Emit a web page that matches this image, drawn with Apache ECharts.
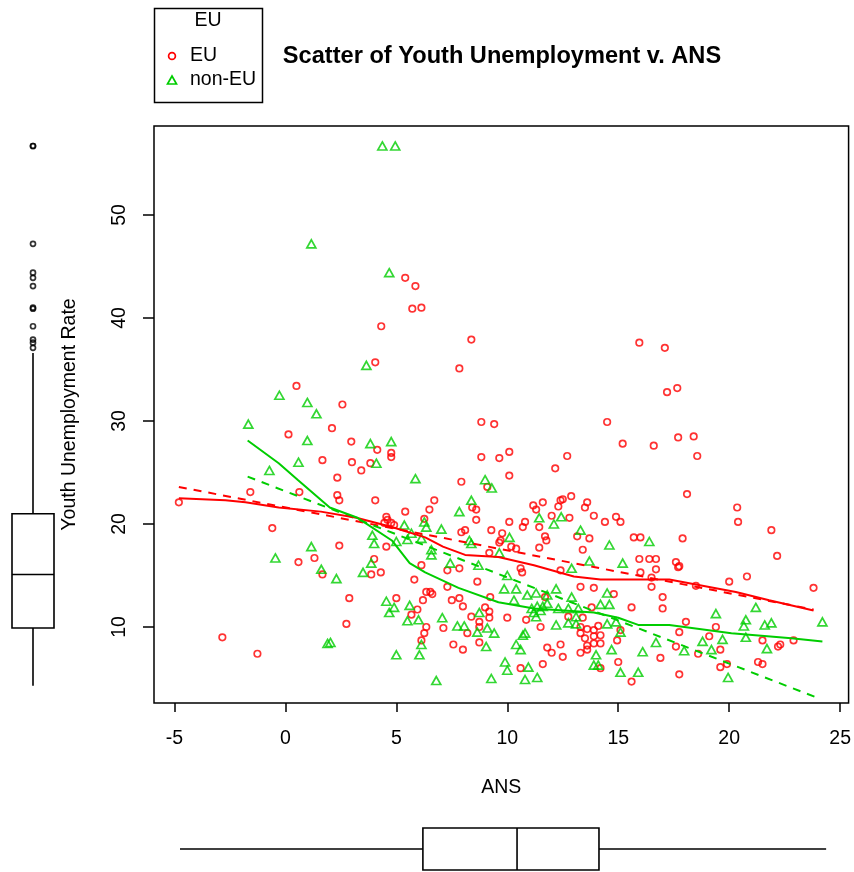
<!DOCTYPE html>
<html>
<head>
<meta charset="utf-8">
<script src="https://cdn.jsdelivr.net/npm/echarts@6/dist/echarts.min.js"></script>
<style>
html,body{margin:0;padding:0;background:#fff;}
#chart{width:854px;height:872px;}
</style>
</head>
<body>
<div id="chart"></div>
<script>
// ---- data ----
const euPoints = [
  [4.32,39.2],[4.05,35.7],[0.5,33.4],[2.57,31.6],[2.1,29.3],[0.14,28.7],
  [5.4,43.9],[5.86,43.1],[5.72,40.9],[6.13,41.0],[8.38,37.9],[7.84,35.1],[15.95,37.6],[8.83,29.9],[9.41,29.7],[14.5,29.9],
  [17.1,37.1],[17.2,32.8],[17.66,33.2],[17.7,28.4],[18.4,28.5],
  [1.67,26.2],[-1.58,23.1],[0.63,23.1],[-4.8,22.1],[-0.59,19.6],[0.59,16.3],[1.31,16.7],[1.67,15.1],
  [2.97,28.0],[4.14,27.2],[4.77,26.9],[4.77,26.5],[3.0,26.0],[3.83,25.9],[3.42,25.2],[8.83,26.5],[2.34,24.5],[7.93,24.1],[9.1,23.6],
  [2.34,22.8],[2.43,22.3],[4.05,22.3],[6.71,22.3],[8.42,21.6],[8.6,21.4],[6.49,21.4],[5.4,21.2],[8.6,20.4],[6.26,20.5],
  [4.55,20.7],[4.6,20.4],[4.46,20.1],[4.77,20.1],[4.9,19.9],[7.93,19.2],[8.1,19.4],[9.28,19.4],[2.43,17.9],[4.55,17.8],[9.19,17.2],[4.0,16.6],[6.13,16.0],
  [15.2,27.8],[16.6,27.6],[9.64,26.4],[10.09,27.0],[12.7,26.6],[12.16,25.4],[10.09,24.7],[12.88,22.7],[11.6,22.1],[12.4,22.3],[12.5,22.4],[13.6,22.1],
  [11.17,21.8],[11.3,21.4],[12.3,21.7],[13.5,21.6],[13.9,20.8],[12.8,20.6],[12.0,20.8],[14.4,20.2],[14.9,20.7],[15.1,20.2],[10.09,20.2],[10.8,20.2],
  [10.7,19.7],[11.44,19.7],[11.7,18.8],[11.76,18.4],[13.15,18.8],[13.7,18.6],[9.77,19.1],[15.7,18.7],[16.0,18.7],[9.64,18.2],[9.7,18.4],[10.18,17.8],
  [10.4,17.6],[11.44,17.7],[13.4,17.5],[15.95,16.6],[16.4,16.6],[16.7,16.6],
  [18.56,26.6],[18.1,22.9],[20.36,21.6],[20.4,20.2],[21.9,19.4],[17.9,18.6],[22.16,16.9],[17.6,16.3],[17.75,15.9],
  [-2.84,9.0],[-1.26,7.4],
  [3.87,15.1],[4.3,15.3],[7.3,15.5],[7.84,15.7],[5.81,14.6],[8.65,14.4],[7.3,13.9],[2.88,12.8],[5.0,12.8],[6.2,12.6],[6.35,13.4],[6.53,13.4],[6.62,13.2],
  [7.5,12.6],[7.84,12.8],[8.0,12.0],[9.23,12.9],[5.95,11.7],[5.68,11.2],[6.35,10.0],[2.75,10.3],[8.38,11.0],[9.0,11.9],[9.19,11.5],[9.19,10.9],
  [7.12,9.9],[8.74,10.5],[8.74,10.0],[8.2,9.4],[6.26,9.4],[6.13,8.7],[7.57,8.3],[8.0,7.8],[8.74,8.5],
  [10.6,15.7],[10.67,15.3],[12.4,15.5],[16.0,15.3],[16.7,15.6],[16.5,14.8],[16.5,13.9],[13.3,13.9],[13.9,13.8],[11.7,12.9],[14.8,13.2],[17.0,12.9],
  [17.0,11.8],[15.6,11.9],[13.8,11.9],[12.75,11.0],[13.4,10.9],[13.3,10.0],[10.0,10.9],[10.85,10.7],[11.5,10.0],[15.1,9.7],[14.95,8.7],[11.8,8.0],
  [12.0,7.5],[12.4,8.3],[12.5,7.1],[11.6,6.4],[13.3,9.4],[13.6,9.8],[13.9,9.7],[14.1,10.1],[13.5,8.9],[13.9,9.1],[14.2,9.2],[13.6,8.2],[13.9,8.4],
  [14.2,8.4],[13.3,7.5],[13.6,7.8],[14.2,6.0],[15.0,6.6],[16.9,7.0],[15.6,4.7],[10.6,6.0],
  [17.7,15.8],[20.0,14.4],[20.8,14.9],[23.8,13.8],[18.5,14.0],[18.05,10.5],[19.4,10.0],[17.75,9.5],[19.1,9.1],[21.5,8.7],[22.3,8.3],[22.2,8.1],
  [22.9,8.7],[17.6,8.1],[19.6,7.8],[18.6,7.4],[21.3,6.6],[21.5,6.4],[19.6,6.1],[19.9,6.4],[17.75,5.4]
];
const nonEuPoints = [
  [4.37,56.7],[4.95,56.7],[1.17,47.2],[4.68,44.4],[3.65,35.4],[-0.27,32.5],[0.99,31.8],[1.4,30.7],[-1.67,29.7],
  [0.99,28.1],[0.59,26.0],[-0.72,25.2],[1.17,17.8],[-0.45,16.7],[1.62,15.6],
  [3.83,27.8],[4.77,28.0],[4.1,25.9],[5.86,24.4],[9.0,24.3],[9.3,23.5],[8.38,22.3],[7.84,21.2],[5.36,19.9],[6.26,20.2],[6.35,19.7],[7.03,19.5],
  [3.92,18.9],[5.68,19.1],[5.0,18.3],[5.5,18.5],[6.13,18.6],[4.0,18.1],[8.29,18.4],[8.38,18.1],[6.58,17.5],[6.58,17.0],[3.87,16.2],[7.43,16.2],
  [11.44,20.6],[12.43,20.7],[12.1,20.0],[13.3,19.4],[10.1,18.7],[16.4,18.3],[14.6,17.96],[9.64,17.2],[13.7,16.4],[15.2,16.2],
  [1.9,8.4],
  [2.3,14.7],[3.5,15.3],[8.7,16.0],[4.55,12.5],[4.9,11.9],[4.68,11.4],[5.6,12.1],[5.5,10.6],[6.0,10.7],[2.03,8.5],[8.74,11.4],[7.07,10.9],
  [7.75,10.1],[8.06,10.1],[8.65,9.5],[9.1,9.9],[9.41,9.4],[6.13,8.3],[6.04,7.3],[9.05,8.1],[5.0,7.3],[6.8,4.8],[9.28,5.0],
  [10.0,15.0],[12.9,15.7],[9.86,13.7],[10.4,13.7],[12.2,13.7],[10.9,13.1],[11.3,13.3],[11.8,13.1],[12.9,12.9],[10.3,12.6],[14.5,13.3],[14.2,12.2],
  [14.6,12.2],[11.1,11.8],[11.35,12.0],[11.6,12.0],[11.8,12.3],[11.2,11.4],[11.5,11.6],[12.3,11.8],[12.75,11.8],[13.2,11.8],[13.1,11.0],[12.75,10.4],
  [13.1,10.3],[12.2,10.2],[11.3,11.0],[10.8,9.4],[10.7,9.2],[14.5,10.3],[14.9,10.5],[15.1,9.5],[16.7,8.5],[10.4,8.3],[10.6,7.8],[14.0,7.3],[13.9,6.3],
  [14.1,6.3],[14.7,7.8],[16.1,7.6],[15.1,5.6],[15.9,5.6],[9.9,6.6],[10.0,5.8],[10.95,6.1],[10.8,4.9],[11.35,5.1],
  [19.4,11.3],[21.2,11.9],[20.75,10.7],[20.66,10.1],[21.6,10.2],[21.9,10.4],[24.2,10.5],[18.8,8.6],[19.7,8.8],[20.75,9.0],[17.97,7.7],[19.2,7.8],
  [21.7,7.9],[19.95,5.1]
];
// smoother (solid) and linear fit (dashed) lines
const euSmooth = [[-4.8,22.5],[-2.7,22.3],[-1.8,22.1],[-0.3,21.6],[1.6,21.2],[3.2,20.6],[4.8,19.7],[6.3,18.7],[7.1,17.8],[8.1,17.0],[9.6,16.8],[11.2,16.0],[13.0,14.9],[14.2,14.6],[17.3,14.6],[20.3,13.4],[21.8,12.6],[23.8,11.6]];
const euLinear = [[-4.8,23.6],[23.8,11.7]];
const nonEuSmooth = [[-1.7,28.1],[-0.3,25.9],[0.55,24.3],[2.0,21.6],[3.25,20.6],[4.8,18.4],[5.6,16.2],[6.3,15.3],[7.8,13.8],[9.6,12.4],[11.2,11.8],[13.9,11.4],[15.0,10.9],[15.9,10.2],[17.3,10.2],[20.1,9.4],[22.8,8.9],[24.2,8.6]];
const nonEuLinear = [[-1.7,24.6],[24.0,3.1]];
const xTicks = [-5,0,5,10,15,20,25];
const yTicks = [10,20,30,40,50];
// marginal boxplot statistics [min, Q1, median, Q3, max-whisker]
const yBoxStats = [4.3, 9.9, 15.1, 21.0, 36.6];
const xBoxStats = [-4.75, 6.19, 10.43, 14.12, 24.35];
const groupNames = ['EU','non-EU'];

const yOutliers = euPoints.concat(nonEuPoints).map(p => p[1]).filter(v => v > yBoxStats[4] || v < yBoxStats[0]);

const FONT = "'Liberation Sans', Arial, Helvetica, sans-serif";
const RED = '#ff0000', GREEN = '#00cd00';
const X_MIN = -5.92, X_MAX = 25.38, Y_MIN = 2.62, Y_MAX = 58.64;

const chart = echarts.init(document.getElementById('chart'), null, {renderer: 'canvas'});

const boxLine = {stroke: '#000', lineWidth: 1.6, fill: 'none'};

function renderVBox(params, api) {
  const q = [api.value(1), api.value(2), api.value(3), api.value(4), api.value(5)];
  const xl = api.coord([0, q[2]])[0], xr = api.coord([1, q[2]])[0], xc = api.coord([0.5, q[2]])[0];
  const p = q.map(v => api.coord([0.5, v])[1]);
  return {type: 'group', children: [
    {type: 'line', shape: {x1: xc, y1: p[0], x2: xc, y2: p[1]}, style: boxLine},
    {type: 'line', shape: {x1: xc, y1: p[3], x2: xc, y2: p[4]}, style: boxLine},
    {type: 'rect', shape: {x: xl, y: p[3], width: xr - xl, height: p[1] - p[3]}, style: boxLine},
    {type: 'line', shape: {x1: xl, y1: p[2], x2: xr, y2: p[2]}, style: boxLine}
  ]};
}
function renderHBox(params, api) {
  const q = [api.value(1), api.value(2), api.value(3), api.value(4), api.value(5)];
  const yt = api.coord([q[2], 1])[1], yb = api.coord([q[2], 0])[1], yc = api.coord([q[2], 0.5])[1];
  const p = q.map(v => api.coord([v, 0.5])[0]);
  return {type: 'group', children: [
    {type: 'line', shape: {x1: p[0], y1: yc, x2: p[1], y2: yc}, style: boxLine},
    {type: 'line', shape: {x1: p[3], y1: yc, x2: p[4], y2: yc}, style: boxLine},
    {type: 'rect', shape: {x: p[1], y: yt, width: p[3] - p[1], height: yb - yt}, style: boxLine},
    {type: 'line', shape: {x1: p[2], y1: yt, x2: p[2], y2: yb}, style: boxLine}
  ]};
}

const hollow = c => ({color: 'rgba(0,0,0,0)', borderColor: c, borderWidth: 1.7});

const option = {
  animation: false,
  backgroundColor: '#fff',
  textStyle: {fontFamily: FONT},
  grid: [
    {left: 154, top: 126, width: 695, height: 577, show: true, borderColor: '#000', borderWidth: 1.5, backgroundColor: 'transparent'},
    {left: 12, top: 126, width: 42, height: 577, show: false},
    {left: 154, top: 828, width: 695, height: 42, show: false}
  ],
  xAxis: [
    {type: 'value', gridIndex: 0, min: X_MIN, max: X_MAX, position: 'bottom',
     axisLine: {show: false, onZero: false}, splitLine: {show: false},
     axisTick: {show: true, inside: false, length: 9, lineStyle: {color: '#000', width: 1.5}, customValues: xTicks},
     axisLabel: {show: true, margin: 26, fontSize: 19.5, color: '#000', fontFamily: FONT, customValues: xTicks},
     name: 'ANS', nameLocation: 'middle', nameGap: 75,
     nameTextStyle: {fontSize: 19.5, color: '#000', fontFamily: FONT}},
    {type: 'value', gridIndex: 1, min: 0, max: 1, show: false},
    {type: 'value', gridIndex: 2, min: X_MIN, max: X_MAX, show: false}
  ],
  yAxis: [
    {type: 'value', gridIndex: 0, min: Y_MIN, max: Y_MAX, position: 'left',
     axisLine: {show: false, onZero: false}, splitLine: {show: false},
     axisTick: {show: true, inside: false, length: 11, lineStyle: {color: '#000', width: 1.5}, customValues: yTicks},
     axisLabel: {show: true, rotate: 90, margin: 24, fontSize: 19.5, color: '#000', fontFamily: FONT, customValues: yTicks},
     name: 'Youth Unemployment Rate', nameLocation: 'middle', nameRotate: 90, nameGap: 74,
     nameTextStyle: {fontSize: 19.5, color: '#000', fontFamily: FONT}},
    {type: 'value', gridIndex: 1, min: Y_MIN, max: Y_MAX, show: false},
    {type: 'value', gridIndex: 2, min: 0, max: 1, show: false}
  ],
  graphic: [
    {type: 'rect', shape: {x: 154.5, y: 8.5, width: 108, height: 94}, style: {fill: 'none', stroke: '#000', lineWidth: 1.5}},
    {type: 'text', x: 208, y: 21, style: {text: 'EU', align: 'center', verticalAlign: 'middle', fontSize: 19.5, fontFamily: FONT, fill: '#000'}},
    {type: 'circle', shape: {cx: 172, cy: 56, r: 3.4}, style: {fill: 'none', stroke: RED, lineWidth: 1.7}},
    {type: 'text', x: 190, y: 56, style: {text: groupNames[0], align: 'left', verticalAlign: 'middle', fontSize: 19.5, fontFamily: FONT, fill: '#000'}},
    {type: 'polygon', shape: {points: [[167.5, 84], [176.5, 84], [172, 76]]}, style: {fill: 'none', stroke: GREEN, lineWidth: 1.7}},
    {type: 'text', x: 190, y: 80, style: {text: groupNames[1], align: 'left', verticalAlign: 'middle', fontSize: 19.5, fontFamily: FONT, fill: '#000'}},
    {type: 'text', x: 502, y: 56, style: {text: 'Scatter of Youth Unemployment v. ANS', align: 'center', verticalAlign: 'middle', fontSize: 23.6, fontWeight: 'bold', fontFamily: FONT, fill: '#000'}}
  ],
  series: [
    {name: groupNames[0], type: 'scatter', xAxisIndex: 0, yAxisIndex: 0, data: euPoints,
     symbol: 'circle', symbolSize: 6.5, itemStyle: hollow(RED), z: 2},
    {name: groupNames[1], type: 'scatter', xAxisIndex: 0, yAxisIndex: 0, data: nonEuPoints,
     symbol: 'triangle', symbolSize: [9, 8], itemStyle: hollow(GREEN), z: 2},
    {type: 'line', xAxisIndex: 0, yAxisIndex: 0, data: euLinear, symbol: 'none', z: 3,
     lineStyle: {color: RED, width: 2, type: [8, 7]}},
    {type: 'line', xAxisIndex: 0, yAxisIndex: 0, data: nonEuLinear, symbol: 'none', z: 3,
     lineStyle: {color: GREEN, width: 2, type: [8, 7]}},
    {type: 'line', xAxisIndex: 0, yAxisIndex: 0, data: euSmooth, symbol: 'none', z: 3,
     lineStyle: {color: RED, width: 2}},
    {type: 'line', xAxisIndex: 0, yAxisIndex: 0, data: nonEuSmooth, symbol: 'none', z: 3,
     lineStyle: {color: GREEN, width: 2}},
    {type: 'custom', xAxisIndex: 1, yAxisIndex: 1, renderItem: renderVBox,
     data: [[0.5].concat(yBoxStats)], encode: {x: 0, y: [1,2,3,4,5]}},
    {type: 'scatter', xAxisIndex: 1, yAxisIndex: 1, data: yOutliers.map(v => [0.5, v]),
     symbol: 'circle', symbolSize: 5, itemStyle: hollow('#000')},
    {type: 'custom', xAxisIndex: 2, yAxisIndex: 2, renderItem: renderHBox,
     data: [[0.5].concat(xBoxStats)], encode: {y: 0, x: [1,2,3,4,5]}}
  ]
};
chart.setOption(option);
</script>
</body>
</html>
